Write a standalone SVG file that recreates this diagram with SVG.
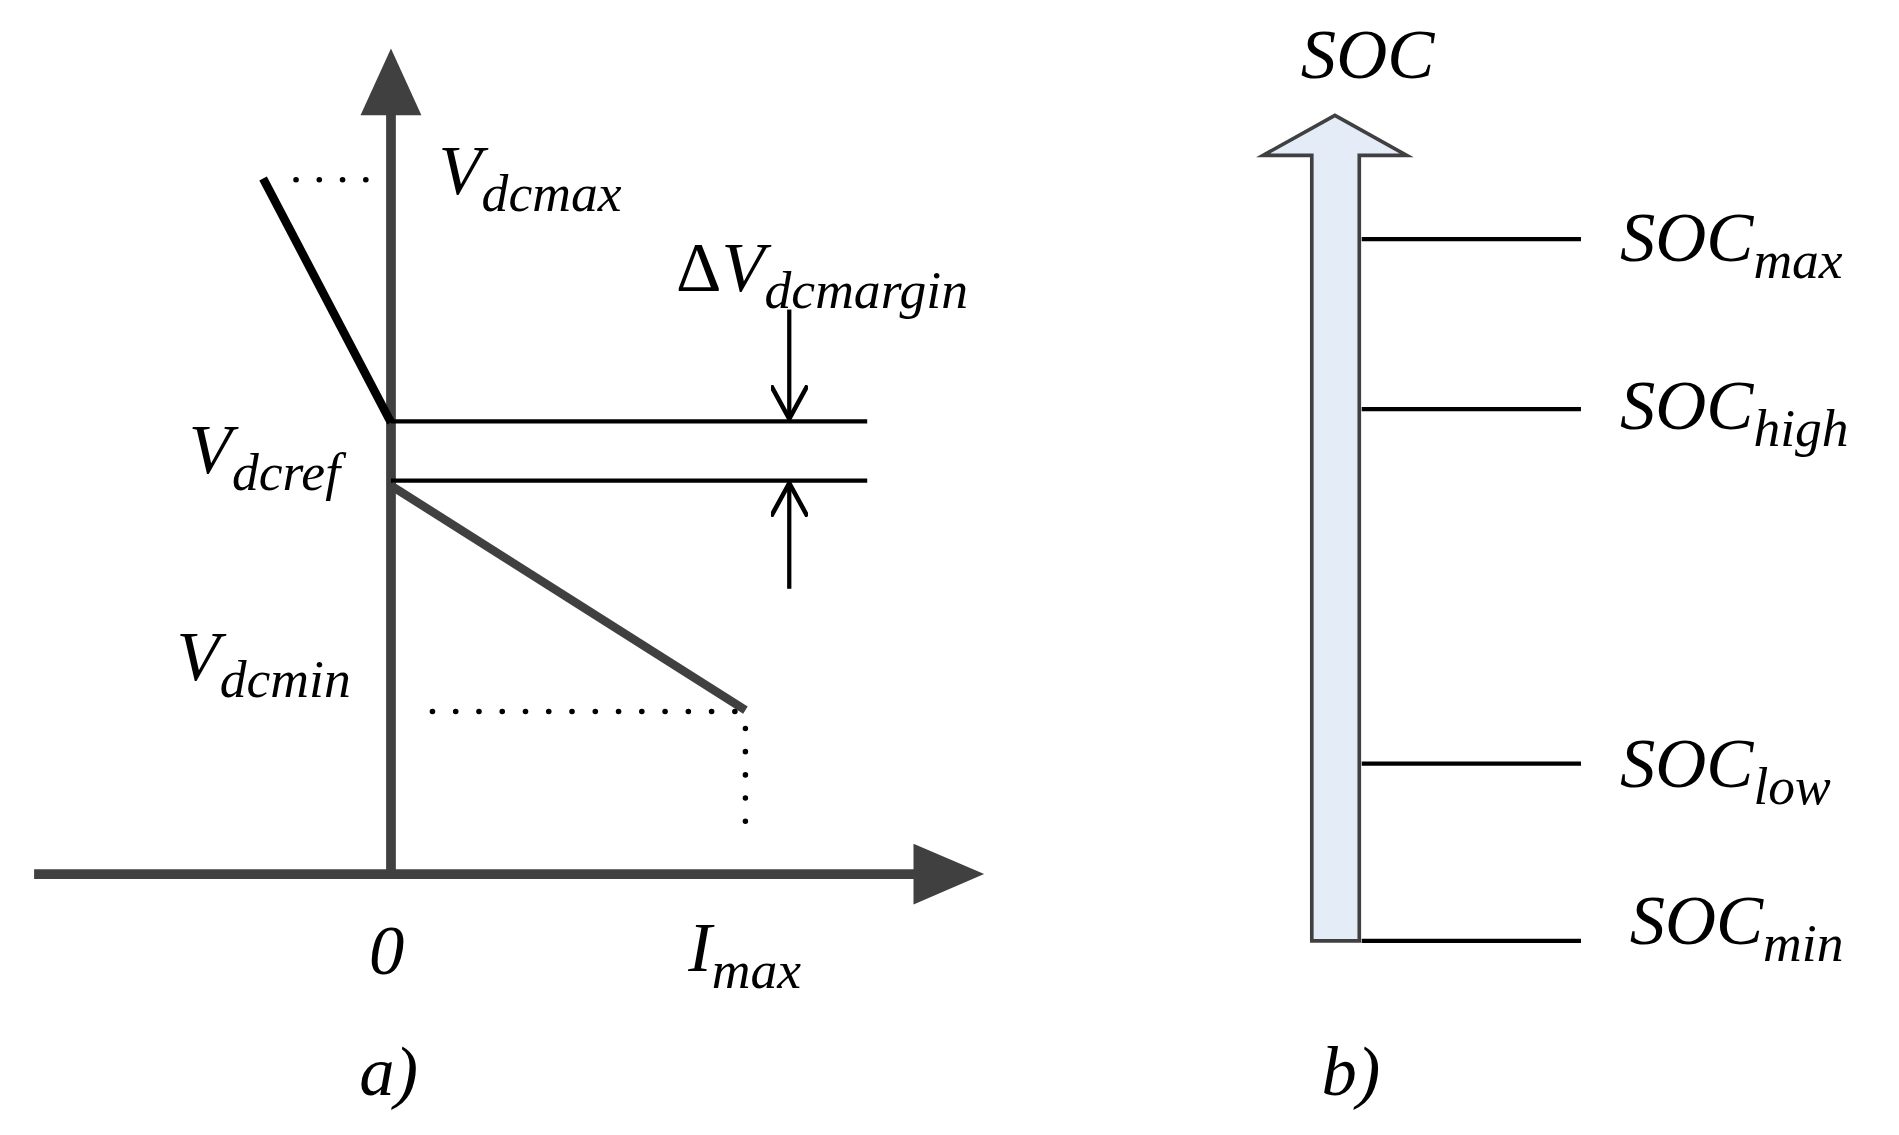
<svg xmlns="http://www.w3.org/2000/svg" width="1899" height="1135" viewBox="0 0 1899 1135">
<defs>
<style>
.t{font-family:"Liberation Serif",serif;font-style:italic;font-size:58px;fill:#000}
.s{font-size:44px;font-style:italic}
.ax{stroke:#404040;stroke-width:8;fill:none}
.bl{stroke:#000;stroke-width:3.5;fill:none}
.dot{stroke:#000;stroke-width:4.5;stroke-linecap:round;stroke-dasharray:0.1 19;fill:none}
</style>
<marker id="ah" markerWidth="30" markerHeight="30" refX="22" refY="12" orient="auto" markerUnits="userSpaceOnUse" viewBox="0 0 24 24"><path d="M0,0 L22,12 L0,24" fill="none" stroke="#000" stroke-width="3"/></marker>
</defs>
<rect width="1899" height="1135" fill="#fff"/>
<g transform="scale(1.218,1.214)">
<g id="axes">
<line class="ax" x1="321" y1="720" x2="321" y2="90"/>
<polygon points="296,95 321,40 346,95" fill="#404040"/>
<line class="ax" x1="28" y1="720" x2="755" y2="720"/>
<polygon points="750,695 808,720 750,745" fill="#404040"/>
</g>
<g id="connectors">
<line x1="216" y1="147" x2="321" y2="348" stroke="#000" stroke-width="7"/>
<line class="dot" x1="243" y1="148" x2="315" y2="148"/>
<line class="bl" x1="321" y1="347" x2="712" y2="347"/>
<line class="bl" x1="321" y1="396" x2="712" y2="396"/>
<line x1="321" y1="400" x2="612" y2="585" stroke="#404040" stroke-width="7"/>
<line class="dot" x1="355" y1="586" x2="612" y2="586"/>
<line class="dot" x1="612" y1="600" x2="612" y2="692"/>
<line class="bl" x1="648" y1="255" x2="648" y2="345" marker-end="url(#ah)"/>
<line class="bl" x1="648" y1="485" x2="648" y2="398" marker-end="url(#ah)"/>
<path d="M1077,775 L1077,128 L1037,128 L1096,95 L1155,128 L1116,128 L1116,775 Z" fill="#e4ecf7" stroke="#404040" stroke-width="3"/>
<line class="bl" x1="1118" y1="197" x2="1298" y2="197"/>
<line class="bl" x1="1118" y1="337" x2="1298" y2="337"/>
<line class="bl" x1="1118" y1="629" x2="1298" y2="629"/>
<line class="bl" x1="1118" y1="775" x2="1298" y2="775"/>
</g>
<g id="labels">
<text class="t" x="360" y="160">V<tspan class="s" dy="14">dcmax</tspan></text>
<text class="t" x="555" y="240"><tspan style="font-style:normal">Δ</tspan>V<tspan class="s" dy="14">dcmargin</tspan></text>
<text class="t" x="155" y="390">V<tspan class="s" dy="14">dcref</tspan></text>
<text class="t" x="145" y="560">V<tspan class="s" dy="14">dcmin</tspan></text>
<text class="t" x="303" y="802">0</text>
<text class="t" x="565" y="800">I<tspan class="s" dy="14">max</tspan></text>
<text class="t" x="295" y="902">a)</text>
<text class="t" x="1085" y="902">b)</text>
<text class="t" x="1068" y="64">SOC</text>
<text class="t" x="1330" y="215">SOC<tspan class="s" dy="14">max</tspan></text>
<text class="t" x="1330" y="353">SOC<tspan class="s" dy="14">high</tspan></text>
<text class="t" x="1330" y="648">SOC<tspan class="s" dy="14">low</tspan></text>
<text class="t" x="1338" y="778">SOC<tspan class="s" dy="14">min</tspan></text>
</g>
</g>
</svg>
